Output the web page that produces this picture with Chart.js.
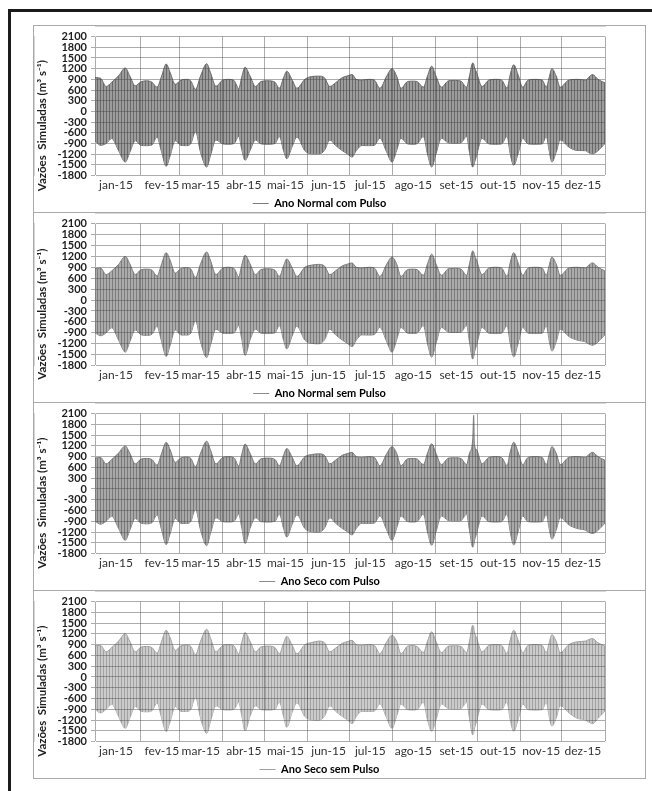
<!DOCTYPE html>
<html>
<head>
<meta charset="utf-8">
<script src="https://cdn.jsdelivr.net/npm/chart.js@4.4.1/dist/chart.umd.min.js"></script>
<style>
body{margin:0;background:#fff;width:652px;height:791px;overflow:hidden;position:relative;font-family:Lato,sans-serif}
#frame{position:absolute;left:8px;top:9px;width:700px;height:900px;border-left:3px solid #1b1b1b;border-top:3px solid #1b1b1b}
.panel{position:absolute;left:33px;width:613px;box-sizing:border-box;border:1px solid #a9a9a9;background:#fff}
.panel canvas{position:absolute;left:0;top:0}
</style>
</head>
<body>
<div id="frame"></div>
<div class="panel" style="top:25px;height:188px"><canvas id="c1" width="611" height="186"></canvas></div>
<div class="panel" style="top:212px;height:191px"><canvas id="c2" width="611" height="189"></canvas></div>
<div class="panel" style="top:402px;height:189px"><canvas id="c3" width="611" height="187"></canvas></div>
<div class="panel" style="top:590px;height:189px"><canvas id="c4" width="611" height="187"></canvas></div>
<script>
// eixo x em dias (a partir de 1 de janeiro)
var months = ['jan-15','fev-15','mar-15','abr-15','mai-15','jun-15','jul-15','ago-15','set-15','out-15','nov-15','dez-15'];
var monthStarts = [-2, 31, 59, 90, 120, 151, 181, 212, 243, 273, 304, 334, 365];
var yTicks = [-1800,-1500,-1200,-900,-600,-300,0,300,600,900,1200,1500,1800,2100];

// dias dos pontos da envoltória
var days = [
  -2, 2, 6, 10, 15, 19.8, 23, 27, 31, 35,
  39, 42.6, 46, 49.2, 52, 55.7, 60, 64, 67, 70.3,
  74, 78.4, 81, 85, 90, 94, 98, 101.5, 103.5, 106,
  109.5, 113.5, 117.5, 122.5, 127.5, 130.7, 133.7, 136, 139.7, 143.3,
  149, 154, 159, 163, 167, 171, 176, 180, 183, 186,
  190, 195, 199, 203, 208, 211.7, 215, 218.2, 223, 227,
  230, 234.3, 237.3, 240.3, 243.3, 247.3, 252.4, 257.4, 261.4, 265.4,
  267.5, 269.8, 270.5, 271, 272.5, 276.5, 281.5, 286.5, 290.5, 294.6,
  296.6, 299.3, 302.7, 305.7, 309.7, 314.7, 319.8, 322.8, 324.8, 326.8,
  329.8, 332.8, 339, 345, 351, 353, 356, 360, 365
];

// Ano Normal com Pulso
var normalComMax = [
  950, 930, 700, 820, 1000, 1220, 1000, 720, 830, 860,
  820, 680, 1000, 1330, 1100, 760, 880, 900, 850, 620,
  1000, 1340, 1100, 710, 880, 900, 870, 640, 950, 1240,
  1000, 700, 840, 860, 820, 650, 950, 1130, 900, 650,
  900, 980, 990, 950, 700, 800, 950, 1000, 1035, 900,
  880, 900, 880, 650, 1000, 1200, 1000, 650, 840, 850,
  830, 680, 1000, 1270, 1000, 680, 860, 870, 850, 680,
  1000, 1360, 1330, 1250, 1100, 700, 880, 900, 880, 650,
  1000, 1310, 1000, 680, 880, 900, 880, 680, 950, 1200,
  1000, 680, 880, 900, 880, 950, 1035, 900, 800
];
var normalComMin = [
  -820, -950, -900, -760, -1100, -1420, -1150, -820, -950, -960,
  -940, -720, -1150, -1540, -1250, -820, -955, -960, -900, -560,
  -1150, -1560, -1250, -800, -910, -920, -900, -700, -1050, -1370,
  -1100, -800, -910, -920, -900, -700, -1100, -1325, -1000, -720,
  -1100, -1190, -1190, -1100, -800, -950, -1100, -1200, -1280, -1100,
  -955, -960, -950, -750, -1150, -1420, -1100, -750, -910, -920,
  -900, -700, -1200, -1560, -1200, -750, -880, -890, -880, -700,
  -1150, -1560, -1520, -1450, -1250, -750, -910, -920, -910, -700,
  -1150, -1510, -1150, -750, -910, -920, -910, -700, -1100, -1420,
  -1150, -800, -1000, -1095, -1100, -1150, -1190, -1100, -900
];

// Ano Normal sem Pulso
var normalSemMax = [
  860, 880, 700, 800, 980, 1200, 1000, 700, 830, 850,
  820, 660, 1000, 1300, 1100, 740, 870, 890, 850, 620,
  1000, 1320, 1100, 700, 880, 900, 870, 640, 950, 1230,
  1000, 700, 840, 860, 820, 650, 940, 1130, 900, 650,
  900, 960, 980, 940, 700, 800, 940, 990, 1020, 900,
  880, 900, 880, 650, 990, 1180, 1000, 650, 840, 850,
  830, 680, 1000, 1260, 1000, 680, 860, 870, 850, 680,
  1000, 1350, 1320, 1250, 1100, 700, 880, 900, 880, 650,
  1000, 1300, 1000, 680, 880, 900, 880, 680, 950, 1180,
  1000, 680, 880, 900, 880, 950, 1020, 900, 800
];
var normalSemMin = [
  -900, -980, -900, -760, -1100, -1430, -1150, -820, -950, -970,
  -940, -720, -1150, -1550, -1250, -820, -960, -960, -900, -560,
  -1150, -1580, -1250, -800, -910, -920, -900, -700, -1050, -1520,
  -1100, -800, -910, -920, -900, -700, -1100, -1340, -1000, -720,
  -1100, -1190, -1200, -1100, -800, -950, -1100, -1200, -1280, -1100,
  -955, -960, -950, -750, -1150, -1430, -1100, -750, -910, -920,
  -900, -700, -1200, -1570, -1200, -750, -880, -890, -880, -700,
  -1150, -1620, -1560, -1450, -1250, -750, -910, -920, -910, -700,
  -1150, -1560, -1150, -750, -910, -920, -910, -700, -1100, -1400,
  -1150, -800, -1000, -1100, -1150, -1200, -1240, -1150, -950
];

// Ano Seco com Pulso
var secoComMax = [
  860, 880, 700, 820, 1000, 1200, 1000, 700, 830, 850,
  820, 660, 1000, 1300, 1100, 740, 870, 890, 850, 620,
  1000, 1330, 1100, 700, 880, 900, 870, 640, 950, 1250,
  1000, 700, 840, 860, 820, 650, 940, 1130, 900, 650,
  900, 960, 980, 940, 700, 800, 940, 990, 1020, 900,
  880, 900, 880, 650, 990, 1180, 1000, 650, 840, 850,
  830, 680, 1000, 1260, 1000, 680, 860, 870, 850, 680,
  1000, 1370, 2050, 1260, 1100, 700, 880, 900, 880, 650,
  1000, 1300, 1000, 680, 880, 900, 880, 680, 950, 1180,
  1000, 680, 880, 900, 880, 950, 1020, 900, 800
];
var secoComMin = [
  -900, -980, -900, -760, -1100, -1430, -1150, -820, -950, -970,
  -940, -720, -1150, -1550, -1250, -820, -960, -960, -900, -560,
  -1150, -1580, -1250, -800, -910, -920, -900, -700, -1050, -1520,
  -1100, -800, -910, -920, -900, -700, -1100, -1340, -1000, -720,
  -1100, -1190, -1200, -1100, -800, -950, -1100, -1200, -1280, -1100,
  -955, -960, -950, -750, -1150, -1430, -1100, -750, -910, -920,
  -900, -700, -1200, -1570, -1200, -750, -880, -890, -880, -700,
  -1150, -1620, -1560, -1450, -1250, -750, -910, -920, -910, -700,
  -1150, -1560, -1150, -750, -910, -920, -910, -700, -1100, -1400,
  -1150, -800, -1000, -1100, -1150, -1200, -1240, -1150, -950
];

// Ano Seco sem Pulso
var secoSemMax = [
  870, 880, 700, 820, 1000, 1210, 1000, 700, 830, 850,
  820, 660, 1000, 1300, 1100, 740, 870, 890, 850, 620,
  1000, 1330, 1100, 700, 880, 900, 870, 640, 950, 1240,
  1000, 700, 840, 860, 820, 650, 940, 1130, 900, 650,
  900, 960, 1000, 960, 700, 800, 940, 990, 1020, 900,
  880, 900, 880, 650, 990, 1165, 1000, 650, 860, 880,
  840, 680, 1000, 1260, 1000, 680, 860, 870, 850, 680,
  1000, 1440, 1400, 1260, 1100, 700, 880, 900, 880, 650,
  1000, 1300, 1000, 680, 880, 900, 880, 680, 950, 1180,
  1000, 680, 900, 980, 1000, 1040, 1070, 950, 860
];
var secoSemMin = [
  -900, -1000, -900, -760, -1100, -1430, -1150, -820, -950, -970,
  -940, -720, -1150, -1520, -1250, -820, -960, -960, -900, -560,
  -1150, -1570, -1250, -800, -910, -920, -900, -700, -1050, -1500,
  -1100, -800, -910, -920, -900, -700, -1100, -1400, -1000, -720,
  -1100, -1190, -1200, -1100, -800, -950, -1100, -1200, -1300, -1100,
  -955, -960, -950, -750, -1150, -1430, -1100, -750, -910, -920,
  -900, -700, -1200, -1510, -1200, -750, -880, -890, -880, -700,
  -1150, -1610, -1570, -1450, -1250, -750, -910, -920, -910, -700,
  -1150, -1510, -1150, -750, -910, -920, -910, -700, -1100, -1370,
  -1150, -800, -1000, -1150, -1200, -1250, -1300, -1150, -950
];

function stripes(dark, light) {
    var c = document.createElement('canvas');
    c.width = 3; c.height = 1;
    var g = c.getContext('2d');
    g.fillStyle = light; g.fillRect(0, 0, 3, 1);
    g.fillStyle = dark; g.fillRect(0, 0, 1, 1);
    return g.createPattern(c, 'repeat');
}

function pts(arr) {
    return days.map(function (d, i) { return {x: d, y: arr[i]}; });
}

var gridColor = 'rgba(70,70,70,0.45)';

function makeChart(id, title, up, low, dark, light, legendColor) {
    var ctx = document.getElementById(id).getContext('2d');
    return new Chart(ctx, {
        type: 'line',
        data: {
            datasets: [{
                label: title,
                data: pts(up),
                fill: '+1',
                backgroundColor: stripes(dark, light),
                borderColor: dark,
                borderWidth: 1,
                pointRadius: 0,
                cubicInterpolationMode: 'monotone'
            }, {
                label: 'min',
                data: pts(low),
                fill: false,
                borderColor: dark,
                borderWidth: 1,
                pointRadius: 0,
                cubicInterpolationMode: 'monotone'
            }]
        },
        options: {
            responsive: false,
            animation: false,
            events: [],
            layout: {padding: {top: 7, right: 40, left: 0, bottom: -7}},
            plugins: {
                tooltip: {enabled: false},
                legend: {
                    position: 'bottom',
                    labels: {
                        boxWidth: 16,
                        boxHeight: 1,
                        padding: 4,
                        color: '#1e1e1e',
                        font: {family: 'Lato', size: 11, weight: 'bold'},
                        generateLabels: function () {
                            return [{text: title, fillStyle: legendColor, strokeStyle: legendColor, lineWidth: 0, hidden: false, datasetIndex: 0}];
                        }
                    }
                }
            },
            scales: {
                x: {
                    type: 'linear',
                    min: -2,
                    max: 365,
                    afterBuildTicks: function (s) {
                        s.ticks = monthStarts.map(function (v) { return {value: v}; });
                    },
                    ticks: {
                        autoSkip: false,
                        maxRotation: 0,
                        labelOffset: 21,
                        padding: 2,
                        color: '#333',
                        font: {family: 'Lato', size: 12},
                        callback: function (v, i) { return months[i] || ''; }
                    },
                    grid: {color: gridColor, drawTicks: false, z: 1},
                    border: {color: gridColor}
                },
                y: {
                    min: -1800,
                    max: 2100,
                    afterBuildTicks: function (s) {
                        s.ticks = yTicks.map(function (v) { return {value: v}; });
                    },
                    afterFit: function (s) { s.width = 61; },
                    ticks: {
                        autoSkip: false,
                        padding: 4,
                        color: '#1e1e1e',
                        font: {family: 'Lato', size: 11, weight: 'bold'},
                        callback: function (v) { return String(v); }
                    },
                    grid: {color: gridColor, tickLength: 4, z: 1},
                    border: {color: gridColor},
                    title: {
                        display: true,
                        text: 'Vazões  Simuladas (m³ s⁻¹)              ',
                        color: '#1e1e1e',
                        padding: {top: 1, bottom: 0},
                        font: {family: 'Lato', size: 11.5, weight: 'bold'}
                    }
                }
            }
        }
    });
}

makeChart('c1', 'Ano Normal com Pulso', normalComMax, normalComMin, '#6a6a6a', '#9c9c9c', '#7a7a7a');
makeChart('c2', 'Ano Normal sem Pulso', normalSemMax, normalSemMin, '#7d7d7d', '#ababab', '#8a8a8a');
makeChart('c3', 'Ano Seco com Pulso', secoComMax, secoComMin, '#7a7a7a', '#a8a8a8', '#8a8a8a');
makeChart('c4', 'Ano Seco sem Pulso', secoSemMax, secoSemMin, '#a2a2a2', '#cbcbcb', '#a0a0a0');
</script>
</body>
</html>
